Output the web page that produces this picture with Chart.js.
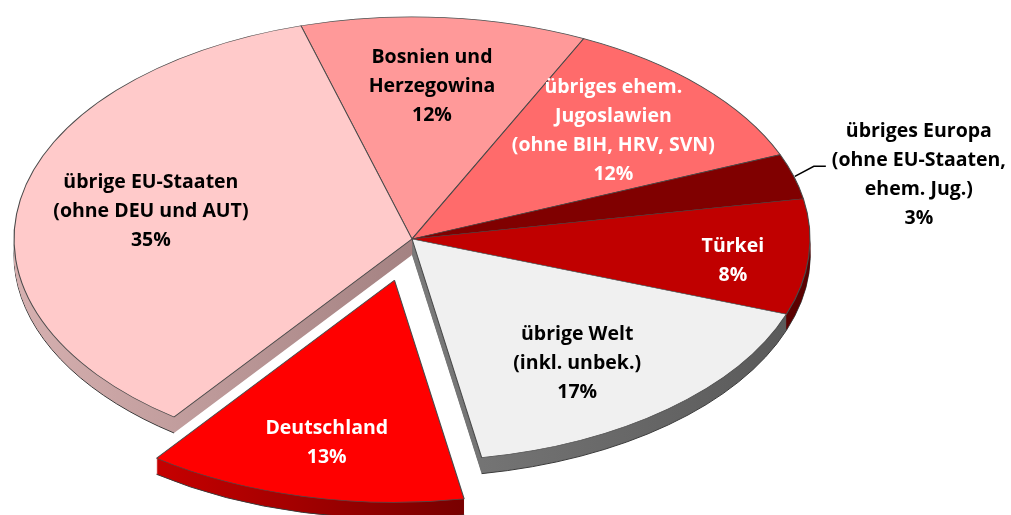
<!DOCTYPE html>
<html><head><meta charset="utf-8">
<script src="https://cdn.jsdelivr.net/npm/chart.js@4.4.0/dist/chart.umd.min.js"></script>
<style>html,body{margin:0;padding:0;background:#fff;overflow:hidden}</style>
</head><body>
<canvas id="c" width="1011" height="515" style="width:1011px;height:515px;display:block"></canvas>
<script>
// ---- data ----
const categories = [
  'Bosnien und Herzegowina',
  'übriges ehem. Jugoslawien (ohne BIH, HRV, SVN)',
  'übriges Europa (ohne EU-Staaten, ehem. Jug.)',
  'Türkei',
  'übrige Welt (inkl. unbek.)',
  'Deutschland',
  'übrige EU-Staaten (ohne DEU und AUT)'
];
const labelLines = [
  ['Bosnien und', 'Herzegowina'],
  ['übriges ehem.', 'Jugoslawien', '(ohne BIH, HRV, SVN)'],
  ['übriges Europa', '(ohne EU-Staaten,', 'ehem. Jug.)'],
  ['Türkei'],
  ['übrige Welt', '(inkl. unbek.)'],
  ['Deutschland'],
  ['übrige EU-Staaten', '(ohne DEU und AUT)']
];
const shares = [11.6, 11.7, 3.3, 8.4, 16.7, 13.0, 35.3];

// ---- style ----
const topColors  = ['#ff9999', '#ff6b6b', '#800000', '#c00000', '#f0f0f0', '#ff0000', '#ffcaca'];
const sideColors = [['#cc7a7a','#a05a5a'], ['#cc5555','#a04040'], ['#600000','#480000'], ['#780000','#5a0000'],
                    ['#7a7a7a','#5a5a5a'], ['#c60000','#780000'], ['#d6b0b0','#a48282']];
const textColors = ['#000', '#fff', '#000', '#fff', '#000', '#fff', '#000'];
const explode    = [0, 0, 0, 0, 0, 76, 0];
const labelFrac  = [0.689, 0.703, 1.0, 0.812, 0.697, 0.75, 0.668];
const labelShift = [-0.5, -0.6, 0, 2.2, 3.6, -0.2, 0.6];
const TILT = 0.558, DEPTH = 16, RADIUS = 398;
const FONT = 'bold 19.5px "Open Sans", "Noto Sans", sans-serif';
const LINE_H = 29;

function tiltTransform(ctx, cx, cy) {
  ctx.translate(cx, cy); ctx.scale(1, TILT); ctx.translate(-cx, -cy);
}
function explodeVec(arc, i) {
  const mid = (arc.startAngle + arc.endAngle) / 2;
  return [Math.cos(mid) * explode[i], Math.sin(mid) * explode[i]];
}
function sliceXRange(arc, i) {
  const [ex] = explodeVec(arc, i);
  let mn = arc.x + ex, mx = arc.x + ex;
  for (let k = 0; k <= 40; k++) {
    const a = arc.startAngle + (arc.endAngle - arc.startAngle) * k / 40;
    const x = arc.x + ex + Math.cos(a) * arc.outerRadius;
    mn = Math.min(mn, x); mx = Math.max(mx, x);
  }
  return [mn, mx];
}

const pie3d = {
  id: 'pie3d',
  beforeDatasetDraw(chart, args) {
    const ctx = chart.ctx;
    const arcs = args.meta.data;
    // side walls (extrusion)
    for (let d = DEPTH; d >= 1; d--) {
      arcs.forEach((arc, i) => {
        const [ex, ey] = explodeVec(arc, i);
        ctx.save();
        ctx.translate(0, d);
        tiltTransform(ctx, arc.x, arc.y);
        ctx.translate(ex, ey);
        ctx.beginPath();
        ctx.moveTo(arc.x, arc.y);
        ctx.arc(arc.x, arc.y, arc.outerRadius, arc.startAngle, arc.endAngle);
        ctx.closePath();
        ctx.restore();
        const [x0, x1] = sliceXRange(arc, i);
        const g = ctx.createLinearGradient(x0, 0, x1, 0);
        g.addColorStop(0, sideColors[i][0]);
        g.addColorStop(1, sideColors[i][1]);
        ctx.fillStyle = g;
        ctx.fill();
        if (d === DEPTH) {
          ctx.save();
          ctx.translate(0, d);
          tiltTransform(ctx, arc.x, arc.y);
          ctx.translate(ex, ey);
          ctx.beginPath();
          ctx.arc(arc.x, arc.y, arc.outerRadius, arc.startAngle, arc.endAngle);
          ctx.restore();
          ctx.strokeStyle = '#3a3a3a';
          ctx.lineWidth = 1;
          ctx.stroke();
        }
      });
    }
    // top faces drawn by the library's arc elements
    arcs.forEach((arc, i) => {
      const [ex, ey] = explodeVec(arc, i);
      ctx.save();
      tiltTransform(ctx, arc.x, arc.y);
      ctx.translate(ex, ey);
      arc.draw(ctx);
      ctx.restore();
    });
    return false;
  },
  afterDatasetsDraw(chart) {
    const ctx = chart.ctx;
    const arcs = chart.getDatasetMeta(0).data;
    ctx.save();
    ctx.font = FONT;
    ctx.textAlign = 'center';
    ctx.textBaseline = 'middle';
    arcs.forEach((arc, i) => {
      const [ex, ey] = explodeVec(arc, i);
      const mid = (arc.startAngle + arc.endAngle) / 2 + labelShift[i] * Math.PI / 180;
      const r = arc.outerRadius * labelFrac[i];
      let x = arc.x + ex + Math.cos(mid) * r;
      let y = arc.y + (ey + Math.sin(mid) * r) * TILT;
      const lines = labelLines[i].concat([Math.round(shares[i]) + '%']);
      if (labelFrac[i] >= 1) {
        // outside label with leader line
        ctx.strokeStyle = '#000';
        ctx.lineWidth = 1.5;
        ctx.beginPath();
        ctx.moveTo(x + 1, y);
        ctx.lineTo(x + 20, y - 10);
        ctx.lineTo(x + 32, y - 10);
        ctx.stroke();
        x = x + 125; y = y - 1;
      }
      ctx.fillStyle = textColors[i];
      const top = y - (lines.length - 1) * LINE_H / 2;
      lines.forEach((t, k) => ctx.fillText(t, x, top + k * LINE_H));
    });
    ctx.restore();
  }
};

new Chart(document.getElementById('c'), {
  type: 'pie',
  data: {
    labels: categories,
    datasets: [{
      data: shares,
      backgroundColor: topColors,
      borderColor: '#4a4a4a',
      borderWidth: 1.1,
      clip: false
    }]
  },
  options: {
    responsive: false,
    animation: false,
    rotation: -16.2,
    radius: RADIUS,
    layout: { padding: { left: 0, right: 187, top: 0, bottom: 37 } },
    plugins: { legend: { display: false }, tooltip: { enabled: false } }
  },
  plugins: [pie3d]
});
</script>
</body></html>
